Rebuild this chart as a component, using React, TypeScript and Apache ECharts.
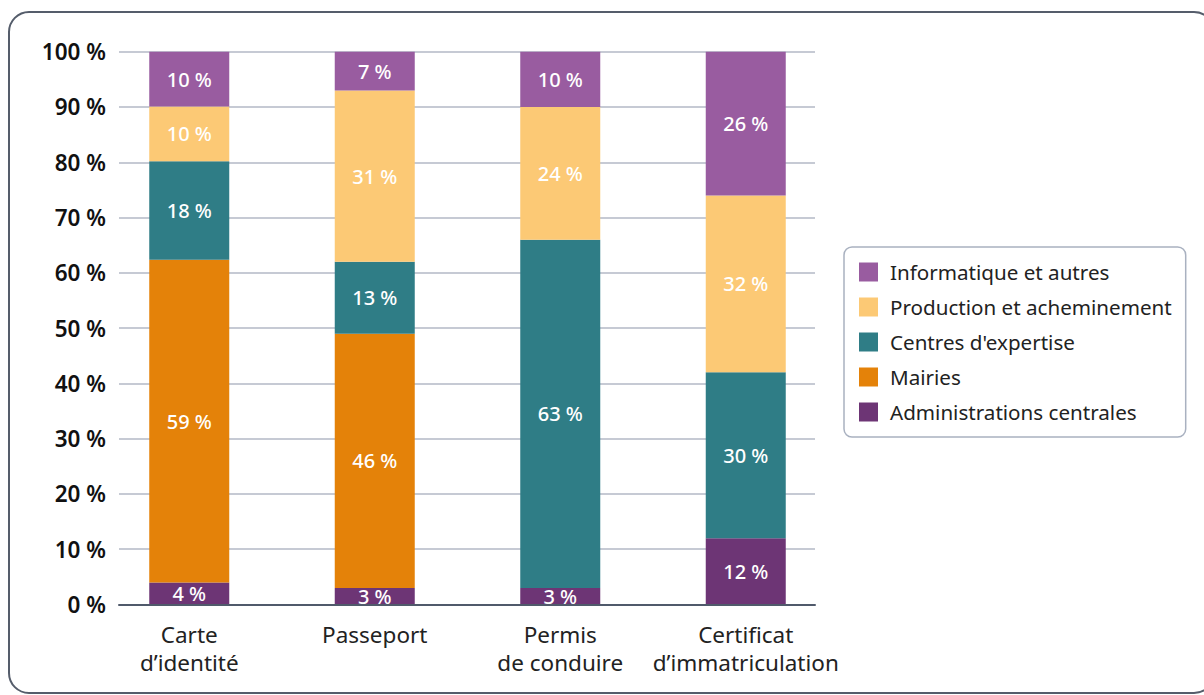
import React, { useEffect, useRef } from "react";
import * as echarts from "echarts";

const categories = ["Carte\nd’identité", "Passeport", "Permis\nde conduire", "Certificat\nd’immatriculation"];
const seriesNames = [
  "Administrations centrales",
  "Mairies",
  "Centres d'expertise",
  "Production et acheminement",
  "Informatique et autres",
];
const administrations = [4, 3, 3, 12];
const mairies = [59, 46, 0, 0];
const centres = [18, 13, 63, 30];
const production = [10, 31, 24, 32];
const informatique = [10, 7, 10, 26];
const yTicks = [0, 10, 20, 30, 40, 50, 60, 70, 80, 90, 100];

const colors = ["#6d3575", "#e48209", "#2f7d86", "#fcc975", "#995ca0"];
const FONT = "'Noto Sans', sans-serif";

export default function App() {
  const ref = useRef<HTMLDivElement>(null);
  useEffect(() => {
    if (!ref.current) return;
    const chart = echarts.init(ref.current, undefined, { renderer: "svg" });
    const raw = [administrations, mairies, centres, production, informatique];
    const totals = categories.map((_, i) => raw.reduce((s, arr) => s + arr[i], 0));
    const top = 51.7;
    const height = 552.8;
    chart.setOption({
      animation: false,
      graphic: [
        {
          type: "rect",
          shape: { x: 9, y: 12, width: 1205, height: 681, r: 20 },
          style: { fill: "none", stroke: "#555d6b", lineWidth: 2 },
          z: -1,
        },
      ],
      legend: {
        orient: "vertical",
        left: 844,
        top: 247,
        data: [...seriesNames].reverse(),
        icon: "rect",
        itemWidth: 19,
        itemHeight: 19,
        itemGap: 14,
        padding: [14.5, 14, 14.5, 15],
        borderColor: "#a9b1c0",
        borderWidth: 1.5,
        borderRadius: 8,
        textStyle: {
          fontFamily: FONT,
          fontSize: 20.6,
          color: "#222",
          padding: [0, 0, 0, 7],
        },
      },
      grid: [
        { left: 96.5, top, width: 742, height },
        { left: 119, top, width: 696, height },
      ],
      xAxis: [
        {
          type: "category",
          gridIndex: 0,
          data: categories,
          axisLine: { show: false },
          axisTick: { show: false },
          axisLabel: {
            fontFamily: FONT,
            fontSize: 22.5,
            color: "#222",
            lineHeight: 28,
            margin: 16,
            interval: 0,
          },
        },
        {
          type: "value",
          gridIndex: 1,
          min: 0,
          max: 1,
          z: 5,
          axisLine: { show: true, lineStyle: { color: "#505a6b", width: 2 } },
          axisTick: { show: false },
          axisLabel: { show: false },
          splitLine: { show: false },
        },
      ],
      yAxis: [
        { type: "value", gridIndex: 0, min: 0, max: 100, show: false },
        {
          type: "value",
          gridIndex: 1,
          min: 0,
          max: 100,
          interval: 10,
          axisLine: { show: false },
          axisTick: { show: false },
          axisLabel: {
            fontFamily: FONT,
            fontSize: 22.5,
            fontWeight: 600,
            color: "#111",
            margin: 13,
            formatter: (v: number) => (yTicks.includes(v) ? `${v} %` : ""),
          },
          splitLine: { show: true, lineStyle: { color: "#b3b9c6", width: 1.5 } },
        },
      ],
      series: raw.map((arr, si) => ({
        name: seriesNames[si],
        type: "bar",
        stack: "total",
        xAxisIndex: 0,
        yAxisIndex: 0,
        barWidth: 80,
        itemStyle: { color: colors[si] },
        data: arr.map((v, i) => ({ value: (v / totals[i]) * 100, raw: v })),
        label: {
          show: true,
          position: "inside",
          color: "#fff",
          fontFamily: FONT,
          fontSize: 20,
          fontWeight: 500,
          formatter: (p: any) => (p.data.raw > 0 ? `${p.data.raw} %` : ""),
        },
      })),
    });
    return () => chart.dispose();
  }, []);
  return (
    <div
      ref={ref}
      style={{ position: "absolute", left: 0, top: 0, width: 1204, height: 695, background: "#fff" }}
    />
  );
}
